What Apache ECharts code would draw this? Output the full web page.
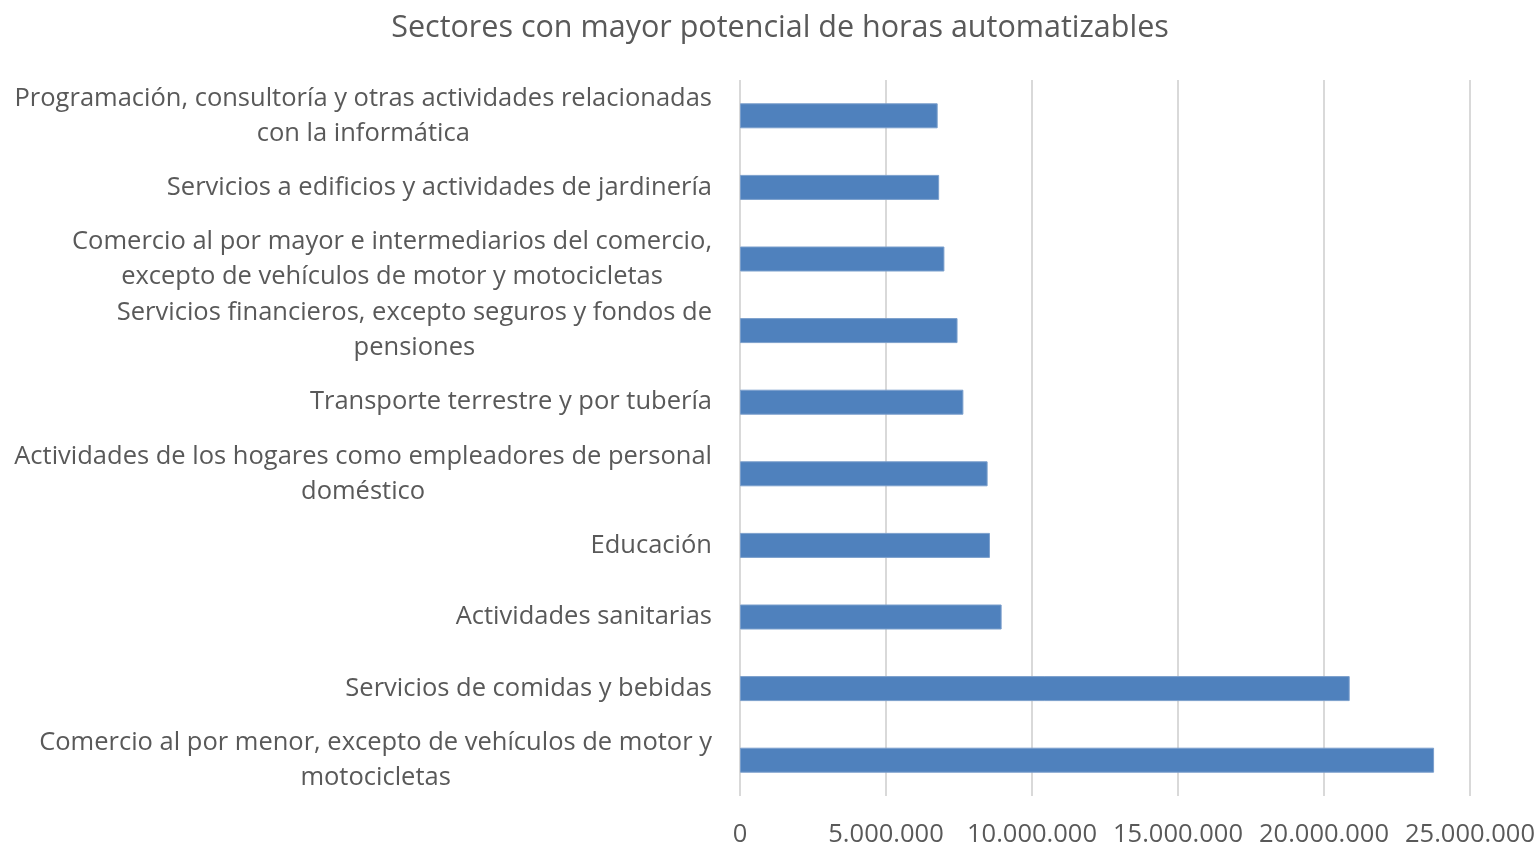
<!DOCTYPE html>
<html>
<head>
<meta charset="utf-8">
<script src="https://cdn.jsdelivr.net/npm/echarts@6/dist/echarts.min.js"></script>
<style>
  html, body { margin: 0; padding: 0; background: #ffffff; }
  #chart { width: 1540px; height: 844px; }
</style>
</head>
<body>
<div id="chart"></div>
<script>
// Sectors, listed bottom to top as they appear on the category axis
const categories = [
  'Comercio al por menor, excepto de vehículos de motor y\nmotocicletas',
  'Servicios de comidas y bebidas',
  'Actividades sanitarias',
  'Educación',
  'Actividades de los hogares como empleadores de personal\ndoméstico',
  'Transporte terrestre y por tubería',
  'Servicios financieros, excepto seguros y fondos de\npensiones',
  'Comercio al por mayor e intermediarios del comercio,\nexcepto de vehículos de motor y motocicletas',
  'Servicios a edificios y actividades de jardinería',
  'Programación, consultoría y otras actividades relacionadas\ncon la informática'
];

// Automatable hours per sector
const hours = [
  23770000, 20880000, 8960000, 8560000, 8480000,
  7650000, 7450000, 7000000, 6820000, 6770000
];

// Value axis ticks
const axisMin = 0;
const axisMax = 25000000;
const axisStep = 5000000;

const FONT = '"Open Sans", sans-serif';
const TEXT = '#595959';
const LABEL_SIZE = 25.5;

function thousands(v) {
  return String(v).replace(/\B(?=(\d{3})+(?!\d))/g, '.');
}

const chart = echarts.init(document.getElementById('chart'), null, { renderer: 'canvas' });

chart.setOption({
  animation: false,
  backgroundColor: '#ffffff',
  title: {
    text: 'Sectores con mayor potencial de horas automatizables',
    left: 775,
    textAlign: 'center',
    top: 8,
    textStyle: { fontFamily: FONT, fontSize: 30.5, fontWeight: 'normal', color: TEXT }
  },
  grid: {
    left: 740, right: 70, top: 80, bottom: 48,
    containLabel: false,
    outerBoundsMode: 'none'
  },
  xAxis: {
    type: 'value',
    min: axisMin,
    max: axisMax,
    interval: axisStep,
    axisLine: { show: false },
    axisTick: { show: false },
    splitLine: { show: true, lineStyle: { color: '#d9d9d9', width: 2 } },
    axisLabel: {
      margin: 26,
      fontFamily: FONT,
      fontSize: 25.5,
      color: TEXT,
      formatter: v => thousands(v)
    }
  },
  yAxis: {
    type: 'category',
    data: categories,
    axisLine: { show: false },
    axisTick: { show: false },
    axisLabel: {
      margin: 28,
      fontFamily: FONT,
      fontSize: LABEL_SIZE,
      color: TEXT,
      lineHeight: 35,
      formatter: v => v.split('\n').map(l => '{c|' + l + '}').join('\n'),
      rich: {
        c: { align: 'center', fontFamily: FONT, fontSize: LABEL_SIZE, color: TEXT, lineHeight: 35 }
      }
    }
  },
  series: [{
    type: 'bar',
    data: hours,
    barWidth: 25,
    itemStyle: { color: '#4f81bd', borderColor: '#7b9fcc', borderWidth: 1 }
  }]
});
</script>
</body>
</html>
